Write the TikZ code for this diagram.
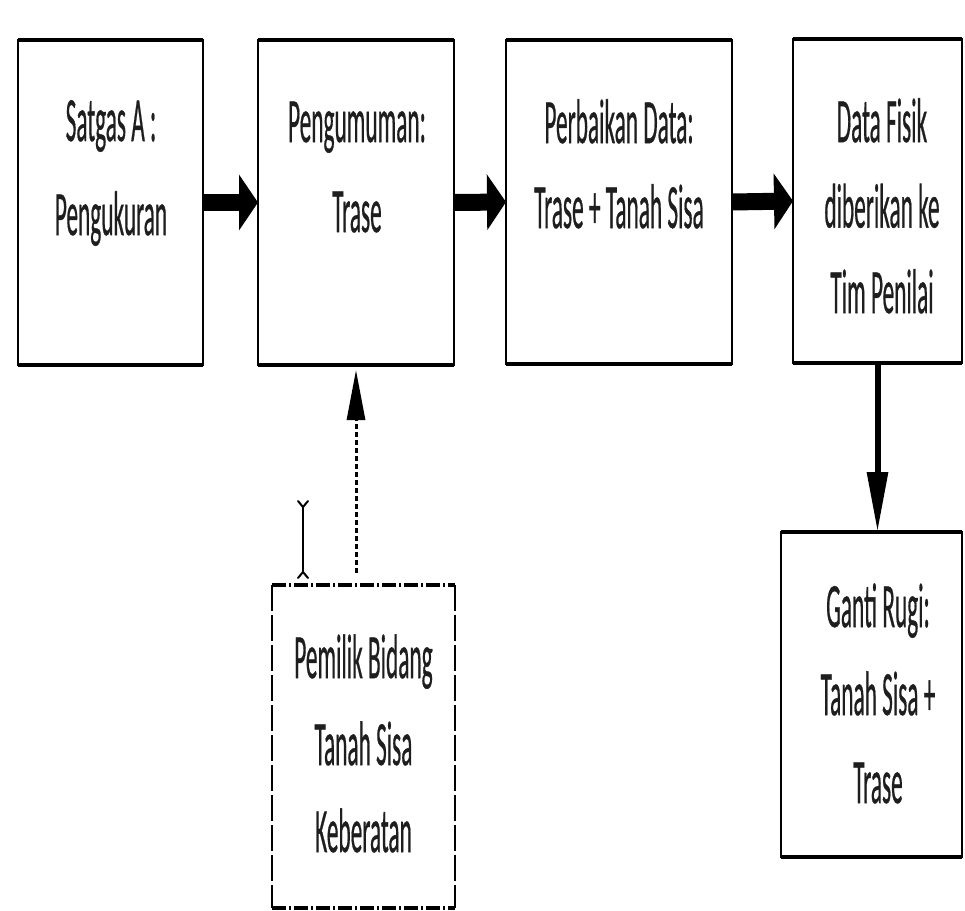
\documentclass[tikz,border=0pt]{standalone}
\usepackage{fontspec}
\setmainfont{Carlito}
\newfontfamily\lblfont{Carlito}[FakeBold=0.8]
\usepackage{graphicx}
\usetikzlibrary{arrows.meta}
\definecolor{textcol}{HTML}{1E1E1E}
% #1 = baseline distance, #2 = lines
\newcommand{\boxtext}[2]{\scalebox{0.37}[1]{\lblfont\fontsize{63}{#1}\selectfont\begin{tabular}[t]{@{}c@{}}#2\end{tabular}}}
\begin{document}
\begin{tikzpicture}[x=1pt,y=-1pt,
  procbox/.style={draw=black, line width=2pt, rectangle, inner sep=0pt, outer sep=0pt},
  ghostbox/.style={draw=none, rectangle, inner sep=0pt, outer sep=0pt},
  thickedge/.style={line width=3.5pt, draw=black},
  lbl/.style={anchor=base, inner sep=0pt, text=textcol},
  blockarrow/.style={line width=17pt, -{Triangle[length=19pt,width=55pt]}},
  downarrow/.style={line width=6pt, -{Triangle[length=60pt,width=20pt]}},
  dasharrow/.style={line width=3pt, dash pattern=on 5pt off 3pt, -{Triangle[length=50pt,width=18pt]}},
  dside/.style={line width=2pt, dash pattern=on 26pt off 4pt},
  dtop/.style={line width=3.5pt, dash pattern=on 14pt off 3pt on 2pt off 3pt},
  ibeam/.style={line width=2pt, line cap=round}
 ]
\fill[white] (0,0) rectangle (965,910);
\useasboundingbox (0,0) rectangle (965,910);

% boxes
\node[procbox, minimum width=185pt, minimum height=325pt] (b1) at (110.5,202.5) {};
\node[procbox, minimum width=196pt, minimum height=325pt] (b2) at (356,202.5) {};
\node[procbox, minimum width=226pt, minimum height=324pt] (b3) at (619,202) {};
\node[procbox, minimum width=169pt, minimum height=324pt] (b4) at (877.5,201) {};
\node[procbox, minimum width=181pt, minimum height=325pt] (b5) at (871.5,694.5) {};
\node[ghostbox, minimum width=183pt, minimum height=323pt] (d) at (363.5,746.5) {};

% heavier top and bottom edges
\foreach \b in {b1,b2,b3,b4,b5}{
  \draw[thickedge] (\b.north west) -- (\b.north east);
  \draw[thickedge] (\b.south west) -- (\b.south east);
}

% dashed box border
\draw[dside] (d.north west) -- (d.south west);
\draw[dside] (d.north east) -- (d.south east);
\draw[dtop] (d.north west) -- (d.north east);
\draw[dtop] (d.south west) -- (d.south east);

% labels
\node[lbl] (t1) at (111,141) {\boxtext{94}{Satgas A :\\Pengukuran}};
\node[lbl] (t2) at (357,142) {\boxtext{90}{Pengumuman:\\Trase}};
\node[lbl] (t3) at (619,143) {\boxtext{85}{Perbaikan Data:\\Trase + Tanah Sisa}};
\node[lbl] (t4) at (882,142) {\boxtext{85.5}{Data Fisik\\diberikan ke\\Tim Penilai}};
\node[lbl] (t5) at (878,627) {\boxtext{88}{Ganti Rugi:\\Tanah Sisa +\\Trase}};
\node[lbl] (t6) at (363.5,678) {\boxtext{87}{Pemilik Bidang\\Tanah Sisa\\Keberatan}};

% connectors
\draw[blockarrow] (b1.east) -- (b2.west);
\draw[blockarrow] (b2.east) -- (b3.west);
\draw[blockarrow] (b3.east) -- (b4.west);
\draw[downarrow] (b4.south) -- (b4.south |- b5.north);
\draw[dasharrow, shorten <=12pt, shorten >=5pt] (b2.south |- d.north) -- (b2.south);

% I-beam cursor
\coordinate (ibtop) at (303,507);
\coordinate (ibbot) at (303,572);
\draw[ibeam] (ibtop) -- (ibbot);
\draw[ibeam] ([xshift=-5pt,yshift=6pt]ibtop) -- (ibtop) -- ([xshift=5pt,yshift=6pt]ibtop);
\draw[ibeam] ([xshift=-5pt,yshift=-6pt]ibbot) -- (ibbot) -- ([xshift=5pt,yshift=-6pt]ibbot);
\end{tikzpicture}
\end{document}
